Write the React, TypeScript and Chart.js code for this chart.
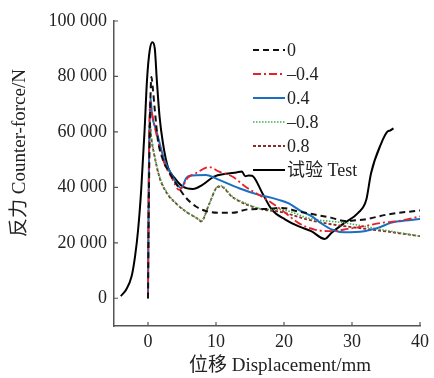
import { useEffect, useRef } from "react";
import { Chart, registerables } from "chart.js";

Chart.register(...registerables);

const SERIES_LABELS = ["0", "–0.4", "0.4", "–0.8", "0.8", "试验 Test"];
const X_TICKS = [0, 10, 20, 30, 40];
const Y_TICKS = [0, 20000, 40000, 60000, 80000, 100000];
const X_TITLE = "位移 Displacement/mm";
const Y_TITLE = "反力 Counter-force/N";

const s0X = [0, 0.1, 0.3, 0.5, 0.7, 1.0, 1.46, 2.2, 3.2, 4.4, 5.6, 7.05, 8.5, 10.45, 12.4, 14.8, 17.2, 19.7, 22.1, 24.5, 27, 28.9, 29.9, 31.8, 35.2, 40];
const s0Y = [0, 30000, 65000, 79800, 76000, 67900, 57100, 49900, 45100, 40300, 36200, 33100, 31500, 30800, 30800, 32100, 32200, 32600, 31300, 30200, 29000, 27900, 28000, 28400, 30200, 31700];

const sm04X = [0, 0.1, 0.3, 0.5, 1.2, 2.4, 3.4, 4.6, 5.1, 5.8, 7.05, 9.0, 10.45, 12.4, 14.3, 16.3, 18.2, 20.2, 22.1, 24.5, 27, 29.4, 31.8, 34.3, 36.7, 40];
const sm04Y = [0, 40000, 71000, 68000, 59500, 48700, 43900, 39100, 40300, 43300, 45100, 47300, 45700, 43900, 40300, 37300, 34400, 30800, 27200, 24800, 24200, 25000, 26000, 27200, 27800, 29500];

const s04X = [0, 0.1, 0.35, 0.6, 1.2, 2.4, 3.6, 4.9, 5.6, 6.1, 8.5, 10.45, 13.4, 16.3, 18.2, 19.2, 20.7, 22.6, 24.1, 25.5, 27, 28.9, 31.8, 33.8, 35.7, 37, 40];
const s04Y = [0, 40000, 72400, 66000, 60700, 49900, 43900, 39700, 43300, 44200, 44500, 42700, 39700, 37300, 36200, 35500, 34200, 31300, 29500, 27000, 24800, 23800, 24200, 25400, 27200, 27800, 28600];

const sm08X = [0, 0.1, 0.25, 0.5, 1.0, 1.7, 2.7, 4.1, 5.6, 7.5, 7.8, 9.0, 10.2, 10.7, 12.4, 14.8, 17.3, 19.2, 24.1, 28.9, 33.8, 40];
const sm08Y = [0, 35000, 64000, 58000, 51100, 43900, 38500, 34400, 31300, 28400, 27800, 34000, 40300, 40600, 36700, 33800, 32000, 32000, 28600, 27200, 25000, 22400];

const s08X = [0, 0.1, 0.25, 0.5, 1.0, 1.7, 2.7, 4.1, 5.6, 7.5, 7.8, 9.0, 10.2, 10.7, 12.4, 14.8, 17.3, 19.2, 24.1, 28.9, 33.8, 40];
const s08Y = [0, 35000, 63000, 57500, 50800, 43500, 38200, 34200, 31200, 28300, 27700, 34000, 40100, 40300, 36500, 33500, 31800, 31300, 28000, 26000, 24500, 22400];

const testX = [-4, -3.2, -2.4, -1.9, -1.45, -1.0, -0.5, -0.15, 0.25, 0.65, 1.0, 1.3, 1.7, 2.2, 2.9, 3.9, 5.1, 6.6, 8.0, 9.7, 11.4, 13.0, 13.8, 14.3, 14.8, 15.3, 16.8, 18.2, 20.2, 22.1, 24.0, 26.0, 27.0, 28.9, 30.9, 32.1, 32.8, 34.3, 35.2, 35.6, 36.1];
const testY = [800, 3200, 8000, 15200, 24800, 39100, 60700, 78600, 89400, 92300, 90000, 78600, 65500, 55900, 47500, 43400, 40300, 39400, 40900, 43900, 44900, 45400, 45700, 44000, 44300, 44200, 38000, 32000, 28400, 26000, 24200, 21400, 23600, 27200, 30800, 35500, 45100, 55900, 60100, 60500, 61300];

const SERIES_X = [s0X, sm04X, s04X, sm08X, s08X, testX];
const SERIES_Y = [s0Y, sm04Y, s04Y, sm08Y, s08Y, testY];
const COLORS = ["#111111", "#e8202a", "#1a6fc0", "#3fb050", "#8e2a2a", "#000000"];
const DASHES: number[][] = [[6, 4], [8, 3, 2, 3], [], [1.5, 1.5], [3, 2], []];
const WIDTHS = [2, 1.8, 2, 1.6, 1.8, 2];

const SERIF = "'Liberation Serif', 'Noto Sans CJK SC', serif";

function fmt(v: number): string {
  return String(v).replace(/\B(?=(\d{3})+(?!\d))/g, " ");
}

const decorPlugin = {
  id: "decor",
  afterDraw(chart: any) {
    const { ctx, chartArea, scales } = chart;
    const xs = scales.x;
    const ys = scales.y;
    ctx.save();
    // inward ticks
    ctx.strokeStyle = "#555";
    ctx.lineWidth = 1.2;
    ctx.setLineDash([]);
    ctx.beginPath();
    for (const t of Y_TICKS) {
      const py = ys.getPixelForValue(t);
      ctx.moveTo(chartArea.left, py);
      ctx.lineTo(chartArea.left + 4, py);
    }
    for (const t of X_TICKS) {
      const px = xs.getPixelForValue(t);
      ctx.moveTo(px, chartArea.bottom);
      ctx.lineTo(px, chartArea.bottom - 4);
    }
    ctx.stroke();

    // legend
    const lx = chartArea.left + 139;
    const ly = chartArea.top + 29;
    const rowH = 24;
    chart.data.datasets.forEach((ds: any, i: number) => {
      const y = ly + i * rowH;
      ctx.strokeStyle = ds.borderColor;
      ctx.lineWidth = ds.borderWidth;
      ctx.setLineDash(ds.borderDash || []);
      ctx.beginPath();
      ctx.moveTo(lx, y);
      ctx.lineTo(lx + 32, y);
      ctx.stroke();
      ctx.setLineDash([]);
      ctx.fillStyle = "#222";
      ctx.font = `18px ${SERIF}`;
      ctx.textBaseline = "middle";
      ctx.textAlign = "left";
      ctx.fillText(ds.label, lx + 34, y + 1);
    });

    // axis titles
    ctx.fillStyle = "#222";
    ctx.font = `19px ${SERIF}`;
    ctx.textAlign = "center";
    ctx.textBaseline = "middle";
    ctx.fillText(X_TITLE, chartArea.left + 166, chartArea.bottom + 40);
    ctx.save();
    ctx.translate(20, chartArea.top + 132);
    ctx.rotate(-Math.PI / 2);
    ctx.fillText(Y_TITLE, 0, 0);
    ctx.restore();
    ctx.restore();
  },
};

export default function App() {
  const ref = useRef<HTMLCanvasElement | null>(null);
  useEffect(() => {
    document.body.style.margin = "0";
    if (!ref.current) return;
    Chart.defaults.font.family = SERIF;
    const datasets = SERIES_LABELS.map((label, i) => ({
      label,
      data: SERIES_X[i].map((x, j) => ({ x, y: SERIES_Y[i][j] })),
      borderColor: COLORS[i],
      backgroundColor: COLORS[i],
      borderDash: DASHES[i],
      borderWidth: WIDTHS[i],
      pointRadius: 0,
      showLine: true,
      fill: false,
      cubicInterpolationMode: "monotone" as const,
    }));
    const chart = new Chart(ref.current, {
      type: "scatter",
      data: { datasets },
      options: {
        animation: false,
        responsive: false,
        layout: { padding: { top: 21, right: 11, left: 0, bottom: 0 } },
        plugins: { legend: { display: false }, tooltip: { enabled: false } },
        scales: {
          x: {
            type: "linear",
            min: -5,
            max: 40,
            afterBuildTicks: (s: any) => {
              s.ticks = X_TICKS.map((v) => ({ value: v }));
            },
            afterFit: (s: any) => {
              s.height = 52;
            },
            grid: { display: true, drawOnChartArea: false, drawTicks: false },
            border: { display: true, color: "#555", width: 1.5 },
            ticks: { color: "#222", font: { size: 18, family: SERIF }, padding: 5, maxRotation: 0 },
          },
          y: {
            type: "linear",
            min: -10000,
            max: 100000,
            afterBuildTicks: (s: any) => {
              s.ticks = Y_TICKS.map((v) => ({ value: v }));
            },
            afterFit: (s: any) => {
              s.width = 114;
            },
            grid: { display: true, drawOnChartArea: false, drawTicks: false },
            border: { display: true, color: "#555", width: 1.5 },
            ticks: {
              color: "#222",
              font: { size: 18, family: SERIF },
              padding: 7,
              callback: (v: any) => fmt(Number(v)),
            },
          },
        },
      },
      plugins: [decorPlugin],
    });
    return () => chart.destroy();
  }, []);
  return (
    <div style={{ width: 434, height: 378 }}>
      <canvas ref={ref} width={434} height={378} style={{ display: "block" }} />
    </div>
  );
}
